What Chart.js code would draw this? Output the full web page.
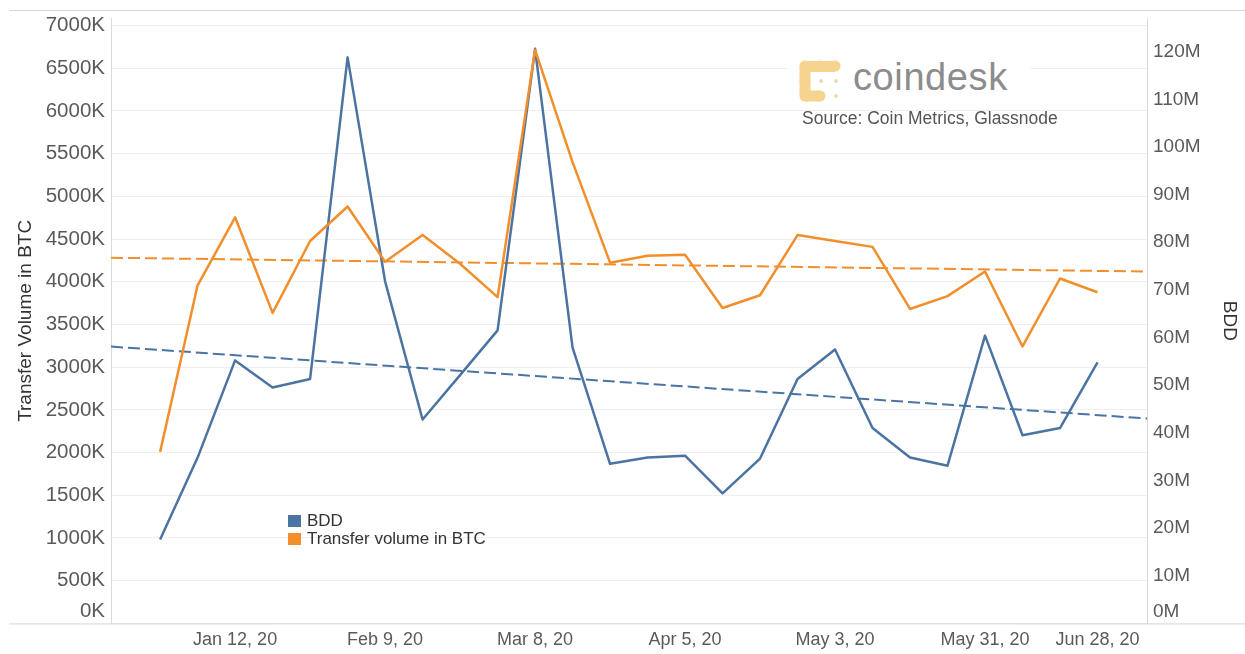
<!DOCTYPE html>
<html>
<head>
<meta charset="utf-8">
<script src="https://cdn.jsdelivr.net/npm/chart.js@4/dist/chart.umd.min.js"></script>
<style>
	body { margin: 0; background: #fff; font-family: "Liberation Sans", Arial, sans-serif; }
	#wrap { position: relative; width: 1245px; height: 654px; }
	#logo { position: absolute; left: 787px; top: 50px; width: 243px; height: 58px; background: #fff; }
	#logo svg { position: absolute; left: 0; top: 0; }
	#logoText { position: absolute; left: 66px; top: 6px; font-size: 38px; color: #8c8c8c; letter-spacing: 0.6px; }
	#source { position: absolute; left: 802px; top: 108px; font-size: 17.5px; color: #555; white-space: nowrap; }
	.leg { position: absolute; left: 288px; font-size: 17px; color: #333; white-space: nowrap; line-height: 18px; }
	.leg span { display: inline-block; width: 13px; height: 12px; margin-right: 6px; vertical-align: -1px; }
</style>
</head>
<body>
<div id="wrap">
	<canvas id="chart" width="1245" height="654"></canvas>
	<div id="logo">
		<svg width="60" height="58">
			<g fill="#f6d38f">
				<circle cx="18" cy="16" r="5.5"/><circle cx="33" cy="16" r="5.5"/><circle cx="48" cy="16" r="5.5"/>
				<circle cx="18" cy="31" r="5.5"/>
				<circle cx="18" cy="46" r="5.5"/><circle cx="33" cy="46" r="5.5"/>
				<rect x="18" y="11" width="30" height="11"/>
				<rect x="12.5" y="16" width="11" height="30"/>
				<rect x="18" y="40.5" width="15" height="11"/>
			</g>
			<circle cx="34" cy="31" r="2" fill="#e9dcae"/>
			<circle cx="49" cy="31" r="2" fill="#e9dcae"/>
			<circle cx="49" cy="46" r="2" fill="#e9dcae"/>
		</svg>
		<div id="logoText">coindesk</div>
	</div>
	<div id="source">Source: Coin Metrics, Glassnode</div>
	<div class="leg" style="top:512px"><span style="background:#4b74a2"></span>BDD</div>
	<div class="leg" style="top:530px"><span style="background:#f28e2b"></span>Transfer volume in BTC</div>
</div>
<script>
// weekly points, Dec 29 2019 .. Jun 21 2020
var weeks = ['Dec 29, 19', 'Jan 5, 20', 'Jan 12, 20', 'Jan 19, 20', 'Jan 26, 20', 'Feb 2, 20', 'Feb 9, 20',
	'Feb 16, 20', 'Feb 23, 20', 'Mar 1, 20', 'Mar 8, 20', 'Mar 15, 20', 'Mar 22, 20', 'Mar 29, 20', 'Apr 5, 20',
	'Apr 12, 20', 'Apr 19, 20', 'Apr 26, 20', 'May 3, 20', 'May 10, 20', 'May 17, 20', 'May 24, 20', 'May 31, 20',
	'Jun 7, 20', 'Jun 14, 20', 'Jun 21, 20'];

// transfer volume, thousand BTC (left axis)
var transferBTC = [2008, 3958, 4754, 3635, 4477, 4881, 4234, 4546, 4211, 3819, 6715, 5400, 4223,
	4304, 4315, 3692, 3842, 4546, 4477, 4408, 3681, 3831, 4119, 3242, 4038, 3877];

// BDD, millions (right axis)
var bdd = [17.6, 34.8, 55.2, 49.5, 51.3, 118.8, 71.8, 42.8, 52.1, 61.5, 120.6, 57.9, 33.5,
	34.8, 35.2, 27.3, 34.6, 51.3, 57.5, 41.0, 34.8, 33.1, 60.4, 39.5, 41.0, 54.8];

// trend lines, value at left and right edge of the plot
var trendBTC = [4281, 4119];
var trendBDD = [58.1, 43.0];

var tickWeeks = [2, 6, 10, 14, 18, 22, 26];
var tickLabels = ['Jan 12, 20', 'Feb 9, 20', 'Mar 8, 20', 'Apr 5, 20', 'May 3, 20', 'May 31, 20', 'Jun 28, 20'];
var btcTicks = [0, 500, 1000, 1500, 2000, 2500, 3000, 3500, 4000, 4500, 5000, 5500, 6000, 6500, 7000];
var bddTicks = [0, 10, 20, 30, 40, 50, 60, 70, 80, 90, 100, 110, 120];

var xMin = -1.31, xMax = 26.32;

function pts(arr) {
	return arr.map(function(v, i) { return { x: i, y: v }; });
}

var tickColor = '#5a5a5a';
var fontFamily = '"Liberation Sans", Arial, sans-serif';

var framePlugin = {
	id: 'frame',
	afterDraw: function(chart) {
		var ctx = chart.ctx;
		ctx.save();
		ctx.strokeStyle = '#d6d6d6';
		ctx.lineWidth = 1;
		ctx.beginPath();
		ctx.moveTo(9, 10.5); ctx.lineTo(1245, 10.5);
		ctx.moveTo(9, chart.chartArea.bottom + 0.5); ctx.lineTo(1245, chart.chartArea.bottom + 0.5);
		ctx.stroke();
		ctx.restore();
	}
};

new Chart(document.getElementById('chart').getContext('2d'), {
	type : 'line',
	data : {
		datasets : [ {
			label : 'Transfer volume in BTC',
			data : pts(transferBTC),
			borderColor : '#f28e2b',
			borderWidth : 2.5,
			yAxisID : 'y'
		}, {
			label : 'BDD',
			data : pts(bdd),
			borderColor : '#4b74a2',
			borderWidth : 2.5,
			yAxisID : 'y1'
		}, {
			label : 'Transfer trend',
			data : [ { x : xMin, y : trendBTC[0] }, { x : xMax, y : trendBTC[1] } ],
			borderColor : '#f28e2b',
			borderWidth : 2,
			borderDash : [ 12, 5 ],
			yAxisID : 'y'
		}, {
			label : 'BDD trend',
			data : [ { x : xMin, y : trendBDD[0] }, { x : xMax, y : trendBDD[1] } ],
			borderColor : '#4b74a2',
			borderWidth : 2,
			borderDash : [ 12, 5 ],
			yAxisID : 'y1'
		} ]
	},
	options : {
		responsive : false,
		devicePixelRatio : 1,
		animation : false,
		layout : { padding : { top : 11, left : 0, right : 0, bottom : 0 } },
		elements : {
			point : { radius : 0 },
			line : { tension : 0, fill : false, borderJoinStyle : 'round' }
		},
		plugins : { legend : { display : false }, tooltip : { enabled : false } },
		scales : {
			x : {
				type : 'linear',
				min : xMin,
				max : xMax,
				afterBuildTicks : function(scale) {
					scale.ticks = tickWeeks.map(function(v) { return { value : v }; });
				},
				afterFit : function(scale) { scale.height = 29; },
				ticks : {
					autoSkip : false,
					maxRotation : 0,
					padding : 6,
					color : tickColor,
					font : { family : fontFamily, size : 18 },
					callback : function(v, i) {
						// last label is pushed left to stay inside the plot, as in the original
						return i === tickLabels.length - 1 ? tickLabels[i] + '\u00a0'.repeat(15) : tickLabels[i];
					}
				},
				grid : { display : false, drawTicks : false },
				border : { display : false }
			},
			y : {
				position : 'left',
				min : 0,
				max : 7084,
				afterBuildTicks : function(scale) {
					scale.ticks = btcTicks.map(function(v) { return { value : v }; });
				},
				afterFit : function(scale) { scale.width = 111; },
				ticks : {
					autoSkip : false,
					padding : 6,
					color : tickColor,
					font : { family : fontFamily, size : 20.5 },
					callback : function(v) { return v === 0 ? [ '0K', '' ] : v + 'K'; }
				},
				grid : { color : '#efefef', drawTicks : false },
				border : { color : '#dadada' },
				title : {
					display : true,
					text : 'Transfer Volume in BTC',
					color : '#333',
					font : { family : fontFamily, size : 19 },
					padding : { top : 14, bottom : 0 }
				}
			},
			y1 : {
				position : 'right',
				min : 0,
				max : 127,
				afterBuildTicks : function(scale) {
					scale.ticks = bddTicks.map(function(v) { return { value : v }; });
				},
				afterFit : function(scale) { scale.width = 98; },
				ticks : {
					autoSkip : false,
					padding : 6,
					color : tickColor,
					font : { family : fontFamily, size : 19 },
					callback : function(v) { return v === 0 ? [ '0M', '' ] : v + 'M'; }
				},
				grid : { display : false, drawTicks : false },
				border : { color : '#dadada' },
				title : {
					display : true,
					text : 'BDD',
					color : '#333',
					font : { family : fontFamily, size : 19 },
					padding : { top : 4, bottom : 0 }
				}
			}
		}
	},
	plugins : [ framePlugin ]
});
</script>
</body>
</html>
